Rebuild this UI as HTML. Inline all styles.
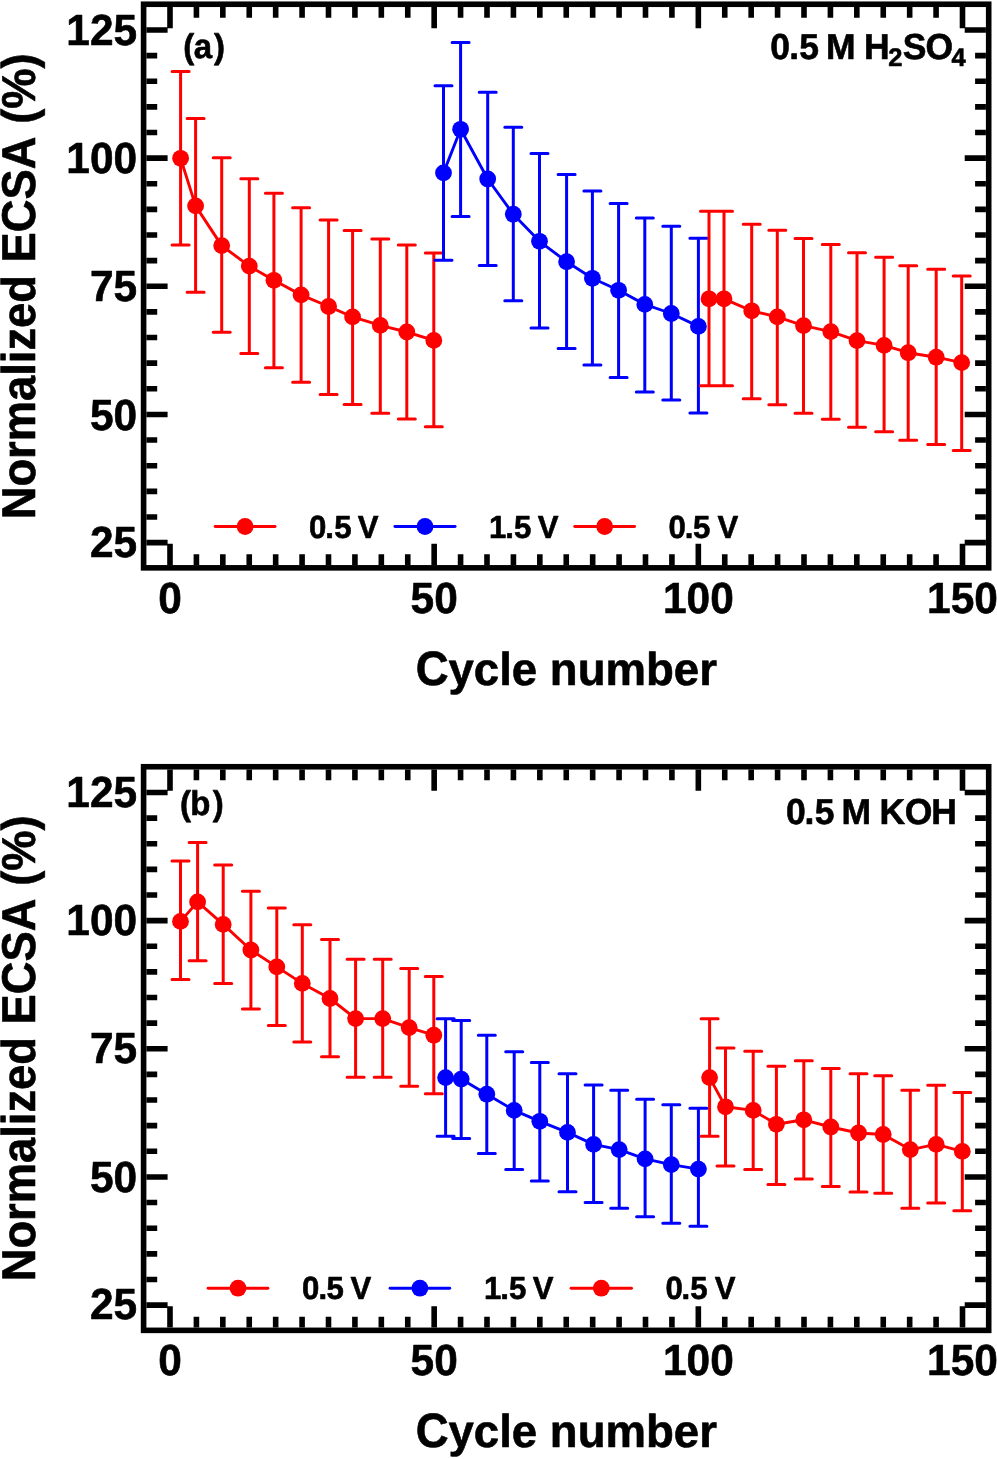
<!DOCTYPE html>
<html><head><meta charset="utf-8"><title>ECSA</title>
<style>
html,body{margin:0;padding:0;background:#fff;}
body{width:997px;height:1459px;overflow:hidden;}
svg{display:block;will-change:transform;}
text{font-family:"Liberation Sans",sans-serif;font-weight:bold;fill:#000;font-kerning:none;stroke:#000;stroke-width:0.6px;stroke-linejoin:round;text-rendering:geometricPrecision;}
</style></head><body>
<svg width="997" height="1459" viewBox="0 0 997 1459">
<rect width="997" height="1459" fill="#fff"/>
<path d="M146.4 542.6H167.6M985.9 542.6H964.7M146.4 516.97H157.2M985.9 516.97H975.1M146.4 491.33H157.2M985.9 491.33H975.1M146.4 465.7H157.2M985.9 465.7H975.1M146.4 440.07H157.2M985.9 440.07H975.1M146.4 414.44H167.6M985.9 414.44H964.7M146.4 388.81H157.2M985.9 388.81H975.1M146.4 363.17H157.2M985.9 363.17H975.1M146.4 337.54H157.2M985.9 337.54H975.1M146.4 311.91H157.2M985.9 311.91H975.1M146.4 286.27H167.6M985.9 286.27H964.7M146.4 260.64H157.2M985.9 260.64H975.1M146.4 235.01H157.2M985.9 235.01H975.1M146.4 209.38H157.2M985.9 209.38H975.1M146.4 183.74H157.2M985.9 183.74H975.1M146.4 158.11H167.6M985.9 158.11H964.7M146.4 132.48H157.2M985.9 132.48H975.1M146.4 106.85H157.2M985.9 106.85H975.1M146.4 81.22H157.2M985.9 81.22H975.1M146.4 55.58H157.2M985.9 55.58H975.1M146.4 29.95H167.6M985.9 29.95H964.7M170 565.05V543.85M170 7.05V28.25M196.42 565.05V554.25M196.42 7.05V17.85M222.83 565.05V554.25M222.83 7.05V17.85M249.25 565.05V554.25M249.25 7.05V17.85M275.67 565.05V554.25M275.67 7.05V17.85M302.08 565.05V554.25M302.08 7.05V17.85M328.5 565.05V554.25M328.5 7.05V17.85M354.92 565.05V554.25M354.92 7.05V17.85M381.33 565.05V554.25M381.33 7.05V17.85M407.75 565.05V554.25M407.75 7.05V17.85M434.17 565.05V543.85M434.17 7.05V28.25M460.58 565.05V554.25M460.58 7.05V17.85M487 565.05V554.25M487 7.05V17.85M513.42 565.05V554.25M513.42 7.05V17.85M539.83 565.05V554.25M539.83 7.05V17.85M566.25 565.05V554.25M566.25 7.05V17.85M592.67 565.05V554.25M592.67 7.05V17.85M619.08 565.05V554.25M619.08 7.05V17.85M645.5 565.05V554.25M645.5 7.05V17.85M671.92 565.05V554.25M671.92 7.05V17.85M698.33 565.05V543.85M698.33 7.05V28.25M724.75 565.05V554.25M724.75 7.05V17.85M751.17 565.05V554.25M751.17 7.05V17.85M777.58 565.05V554.25M777.58 7.05V17.85M804 565.05V554.25M804 7.05V17.85M830.42 565.05V554.25M830.42 7.05V17.85M856.83 565.05V554.25M856.83 7.05V17.85M883.25 565.05V554.25M883.25 7.05V17.85M909.67 565.05V554.25M909.67 7.05V17.85M936.08 565.05V554.25M936.08 7.05V17.85M962.5 565.05V543.85M962.5 7.05V28.25" stroke="#000" stroke-width="5.6" fill="none"/>
<rect x="143.6" y="4.25" width="845.1" height="563.6" stroke="#000" stroke-width="5.6" fill="none"/>
<text transform="translate(66.32 45) scale(1.01 1.035)" font-size="42">125</text>
<text transform="translate(66.32 173) scale(1.01 1.035)" font-size="42">100</text>
<text transform="translate(89.92 301) scale(1.01 1.035)" font-size="42">75</text>
<text transform="translate(89.92 430) scale(1.01 1.035)" font-size="42">50</text>
<text transform="translate(89.92 557) scale(1.01 1.035)" font-size="42">25</text>
<text transform="translate(158.2 613) scale(1.01 1.035)" font-size="42">0</text>
<text transform="translate(410.57 613) scale(1.01 1.035)" font-size="42">50</text>
<text transform="translate(662.95 613) scale(1.01 1.035)" font-size="42">100</text>
<text transform="translate(927.11 613) scale(1.01 1.035)" font-size="42">150</text>
<path d="M180.6 71.6V245M195.6 118.6V292.2M221.7 157.8V332.3M249.3 178.7V353.4M273.9 193.3V367.7M301.1 207.8V382.3M328.6 220.1V394.4M352.6 230.6V404.5M380.3 239V413.2M406.8 245V419M433.8 253.1V426.8" stroke="#ff0000" stroke-width="3.0" fill="none"/>
<path d="M172.1 71.6H189.1M172.1 245H189.1M187.1 118.6H204.1M187.1 292.2H204.1M213.2 157.8H230.2M213.2 332.3H230.2M240.8 178.7H257.8M240.8 353.4H257.8M265.4 193.3H282.4M265.4 367.7H282.4M292.6 207.8H309.6M292.6 382.3H309.6M320.1 220.1H337.1M320.1 394.4H337.1M344.1 230.6H361.1M344.1 404.5H361.1M371.8 239H388.8M371.8 413.2H388.8M398.3 245H415.3M398.3 419H415.3M425.3 253.1H442.3M425.3 426.8H442.3" stroke="#ff0000" stroke-width="3.0" stroke-linecap="round" fill="none"/>
<polyline points="180.6,158.3 195.6,205.9 221.7,245.6 249.3,266.1 273.9,280.3 301.1,294.9 328.6,306.5 352.6,316.9 380.3,325.4 406.8,332 433.8,340.4" stroke="#ff0000" stroke-width="2.9" fill="none" stroke-linejoin="round"/>
<circle cx="180.6" cy="158.3" r="8.4" fill="#ff0000"/>
<circle cx="195.6" cy="205.9" r="8.4" fill="#ff0000"/>
<circle cx="221.7" cy="245.6" r="8.4" fill="#ff0000"/>
<circle cx="249.3" cy="266.1" r="8.4" fill="#ff0000"/>
<circle cx="273.9" cy="280.3" r="8.4" fill="#ff0000"/>
<circle cx="301.1" cy="294.9" r="8.4" fill="#ff0000"/>
<circle cx="328.6" cy="306.5" r="8.4" fill="#ff0000"/>
<circle cx="352.6" cy="316.9" r="8.4" fill="#ff0000"/>
<circle cx="380.3" cy="325.4" r="8.4" fill="#ff0000"/>
<circle cx="406.8" cy="332" r="8.4" fill="#ff0000"/>
<circle cx="433.8" cy="340.4" r="8.4" fill="#ff0000"/>
<path d="M443.5 85.7V260.2M460.6 42.6V216.6M487.7 92.3V265.6M513.3 127.2V300.8M539.5 153.4V327.9M566.6 174.4V348.4M592.4 191V364.9M618.6 203.6V377.6M644.8 218.1V392M671.3 226.2V400.1M698.4 238.2V413.1" stroke="#0000ff" stroke-width="3.0" fill="none"/>
<path d="M435 85.7H452M435 260.2H452M452.1 42.6H469.1M452.1 216.6H469.1M479.2 92.3H496.2M479.2 265.6H496.2M504.8 127.2H521.8M504.8 300.8H521.8M531 153.4H548M531 327.9H548M558.1 174.4H575.1M558.1 348.4H575.1M583.9 191H600.9M583.9 364.9H600.9M610.1 203.6H627.1M610.1 377.6H627.1M636.3 218.1H653.3M636.3 392H653.3M662.8 226.2H679.8M662.8 400.1H679.8M689.9 238.2H706.9M689.9 413.1H706.9" stroke="#0000ff" stroke-width="3.0" stroke-linecap="round" fill="none"/>
<polyline points="443.5,172.9 460.6,129.3 487.7,179 513.3,214.2 539.5,241.3 566.6,261.7 592.4,278.3 618.6,290.3 644.8,304.4 671.3,313.5 698.4,326.4" stroke="#0000ff" stroke-width="2.9" fill="none" stroke-linejoin="round"/>
<circle cx="443.5" cy="172.9" r="8.4" fill="#0000ff"/>
<circle cx="460.6" cy="129.3" r="8.4" fill="#0000ff"/>
<circle cx="487.7" cy="179" r="8.4" fill="#0000ff"/>
<circle cx="513.3" cy="214.2" r="8.4" fill="#0000ff"/>
<circle cx="539.5" cy="241.3" r="8.4" fill="#0000ff"/>
<circle cx="566.6" cy="261.7" r="8.4" fill="#0000ff"/>
<circle cx="592.4" cy="278.3" r="8.4" fill="#0000ff"/>
<circle cx="618.6" cy="290.3" r="8.4" fill="#0000ff"/>
<circle cx="644.8" cy="304.4" r="8.4" fill="#0000ff"/>
<circle cx="671.3" cy="313.5" r="8.4" fill="#0000ff"/>
<circle cx="698.4" cy="326.4" r="8.4" fill="#0000ff"/>
<path d="M709 211.2V385.8M724 211.2V385.8M751.7 224.2V398.7M777.3 230.2V404.7M803.5 238.6V413.2M830.8 244.6V419.2M857 252.8V427.3M884.1 257.3V431.8M908.2 265.7V440.2M936.2 269.3V444.4M961.7 275.9V450.5" stroke="#ff0000" stroke-width="3.0" fill="none"/>
<path d="M700.5 211.2H717.5M700.5 385.8H717.5M715.5 211.2H732.5M715.5 385.8H732.5M743.2 224.2H760.2M743.2 398.7H760.2M768.8 230.2H785.8M768.8 404.7H785.8M795 238.6H812M795 413.2H812M822.3 244.6H839.3M822.3 419.2H839.3M848.5 252.8H865.5M848.5 427.3H865.5M875.6 257.3H892.6M875.6 431.8H892.6M899.7 265.7H916.7M899.7 440.2H916.7M927.7 269.3H944.7M927.7 444.4H944.7M953.2 275.9H970.2M953.2 450.5H970.2" stroke="#ff0000" stroke-width="3.0" stroke-linecap="round" fill="none"/>
<polyline points="709,298.8 724,298.8 751.7,310.8 777.3,316.9 803.5,325.6 830.8,331.6 857,340.6 884.1,345.4 908.2,352.7 936.2,357.2 961.7,362.6" stroke="#ff0000" stroke-width="2.9" fill="none" stroke-linejoin="round"/>
<circle cx="709" cy="298.8" r="8.4" fill="#ff0000"/>
<circle cx="724" cy="298.8" r="8.4" fill="#ff0000"/>
<circle cx="751.7" cy="310.8" r="8.4" fill="#ff0000"/>
<circle cx="777.3" cy="316.9" r="8.4" fill="#ff0000"/>
<circle cx="803.5" cy="325.6" r="8.4" fill="#ff0000"/>
<circle cx="830.8" cy="331.6" r="8.4" fill="#ff0000"/>
<circle cx="857" cy="340.6" r="8.4" fill="#ff0000"/>
<circle cx="884.1" cy="345.4" r="8.4" fill="#ff0000"/>
<circle cx="908.2" cy="352.7" r="8.4" fill="#ff0000"/>
<circle cx="936.2" cy="357.2" r="8.4" fill="#ff0000"/>
<circle cx="961.7" cy="362.6" r="8.4" fill="#ff0000"/>
<line x1="215.1" y1="526.5" x2="275.1" y2="526.5" stroke="#ff0000" stroke-width="2.9" stroke-linecap="round"/>
<circle cx="245.1" cy="526.5" r="8.4" fill="#ff0000"/>
<text transform="translate(0 538) scale(1 1.025)" x="309.12 325.33 334.19 357.74" y="0" font-size="31.2">0.5V</text>
<line x1="394.9" y1="526.5" x2="455.1" y2="526.5" stroke="#0000ff" stroke-width="2.9" stroke-linecap="round"/>
<circle cx="425" cy="526.5" r="8.4" fill="#0000ff"/>
<text transform="translate(0 538) scale(1 1.025)" x="488.98 505.33 514.09 537.74" y="0" font-size="31.2">1.5V</text>
<line x1="574.7" y1="526.5" x2="634.6" y2="526.5" stroke="#ff0000" stroke-width="2.9" stroke-linecap="round"/>
<circle cx="604.65" cy="526.5" r="8.4" fill="#ff0000"/>
<text transform="translate(0 538) scale(1 1.025)" x="668.62 684.73 693.09 717.54" y="0" font-size="31.2">0.5V</text>
<text transform="translate(0 58) scale(1 1.04)" x="183.31 193.78 214.02" y="0" font-size="33">(a)</text>
<text transform="translate(0 59) scale(1 1.015)" x="770.25 789.24 799.36 825.98 863.88 902.83 925.39" y="0" font-size="35.5">0.5MHSO</text>
<text transform="translate(0 66) scale(1 1)" x="888.27 951.56" y="0" font-size="25.5">24</text>
<text transform="translate(415.63 685) scale(0.9903 1.045)" font-size="46">C</text>
<text transform="translate(448.53 685) scale(0.9903 1)" font-size="46">ycle number</text>
<text transform="translate(35.4 519.33) rotate(-90) scale(0.9855 1.03)" font-size="46">Normalized ECSA (%)</text>
<path d="M146.4 1305.1H167.6M985.9 1305.1H964.7M146.4 1279.47H157.2M985.9 1279.47H975.1M146.4 1253.84H157.2M985.9 1253.84H975.1M146.4 1228.2H157.2M985.9 1228.2H975.1M146.4 1202.57H157.2M985.9 1202.57H975.1M146.4 1176.94H167.6M985.9 1176.94H964.7M146.4 1151.31H157.2M985.9 1151.31H975.1M146.4 1125.67H157.2M985.9 1125.67H975.1M146.4 1100.04H157.2M985.9 1100.04H975.1M146.4 1074.41H157.2M985.9 1074.41H975.1M146.4 1048.78H167.6M985.9 1048.78H964.7M146.4 1023.14H157.2M985.9 1023.14H975.1M146.4 997.51H157.2M985.9 997.51H975.1M146.4 971.88H157.2M985.9 971.88H975.1M146.4 946.25H157.2M985.9 946.25H975.1M146.4 920.61H167.6M985.9 920.61H964.7M146.4 894.98H157.2M985.9 894.98H975.1M146.4 869.35H157.2M985.9 869.35H975.1M146.4 843.72H157.2M985.9 843.72H975.1M146.4 818.08H157.2M985.9 818.08H975.1M146.4 792.45H167.6M985.9 792.45H964.7M170 1327.55V1306.35M170 769.55V790.75M196.42 1327.55V1316.75M196.42 769.55V780.35M222.83 1327.55V1316.75M222.83 769.55V780.35M249.25 1327.55V1316.75M249.25 769.55V780.35M275.67 1327.55V1316.75M275.67 769.55V780.35M302.08 1327.55V1316.75M302.08 769.55V780.35M328.5 1327.55V1316.75M328.5 769.55V780.35M354.92 1327.55V1316.75M354.92 769.55V780.35M381.33 1327.55V1316.75M381.33 769.55V780.35M407.75 1327.55V1316.75M407.75 769.55V780.35M434.17 1327.55V1306.35M434.17 769.55V790.75M460.58 1327.55V1316.75M460.58 769.55V780.35M487 1327.55V1316.75M487 769.55V780.35M513.42 1327.55V1316.75M513.42 769.55V780.35M539.83 1327.55V1316.75M539.83 769.55V780.35M566.25 1327.55V1316.75M566.25 769.55V780.35M592.67 1327.55V1316.75M592.67 769.55V780.35M619.08 1327.55V1316.75M619.08 769.55V780.35M645.5 1327.55V1316.75M645.5 769.55V780.35M671.92 1327.55V1316.75M671.92 769.55V780.35M698.33 1327.55V1306.35M698.33 769.55V790.75M724.75 1327.55V1316.75M724.75 769.55V780.35M751.17 1327.55V1316.75M751.17 769.55V780.35M777.58 1327.55V1316.75M777.58 769.55V780.35M804 1327.55V1316.75M804 769.55V780.35M830.42 1327.55V1316.75M830.42 769.55V780.35M856.83 1327.55V1316.75M856.83 769.55V780.35M883.25 1327.55V1316.75M883.25 769.55V780.35M909.67 1327.55V1316.75M909.67 769.55V780.35M936.08 1327.55V1316.75M936.08 769.55V780.35M962.5 1327.55V1306.35M962.5 769.55V790.75" stroke="#000" stroke-width="5.6" fill="none"/>
<rect x="143.6" y="766.75" width="845.1" height="563.6" stroke="#000" stroke-width="5.6" fill="none"/>
<text transform="translate(66.32 807) scale(1.01 1.035)" font-size="42">125</text>
<text transform="translate(66.32 935) scale(1.01 1.035)" font-size="42">100</text>
<text transform="translate(89.92 1063) scale(1.01 1.035)" font-size="42">75</text>
<text transform="translate(89.92 1192) scale(1.01 1.035)" font-size="42">50</text>
<text transform="translate(89.92 1319) scale(1.01 1.035)" font-size="42">25</text>
<text transform="translate(158.2 1375) scale(1.01 1.035)" font-size="42">0</text>
<text transform="translate(410.57 1375) scale(1.01 1.035)" font-size="42">50</text>
<text transform="translate(662.95 1375) scale(1.01 1.035)" font-size="42">100</text>
<text transform="translate(927.11 1375) scale(1.01 1.035)" font-size="42">150</text>
<path d="M180.5 860.9V979.5M197.6 842.6V960.8M223.2 865.1V983.4M250.9 891.3V1009M276.8 907.9V1025.5M302.3 924.7V1042.1M330 939.5V1056.8M355.6 959.3V1077.3M382.7 959.3V1077.3M409.2 968.4V1086.3M433.8 976.5V1093.8" stroke="#ff0000" stroke-width="3.0" fill="none"/>
<path d="M172 860.9H189M172 979.5H189M189.1 842.6H206.1M189.1 960.8H206.1M214.7 865.1H231.7M214.7 983.4H231.7M242.4 891.3H259.4M242.4 1009H259.4M268.3 907.9H285.3M268.3 1025.5H285.3M293.8 924.7H310.8M293.8 1042.1H310.8M321.5 939.5H338.5M321.5 1056.8H338.5M347.1 959.3H364.1M347.1 1077.3H364.1M374.2 959.3H391.2M374.2 1077.3H391.2M400.7 968.4H417.7M400.7 1086.3H417.7M425.3 976.5H442.3M425.3 1093.8H442.3" stroke="#ff0000" stroke-width="3.0" stroke-linecap="round" fill="none"/>
<polyline points="180.5,921.4 197.6,901.9 223.2,924.4 250.9,950 276.8,966.9 302.3,983.4 330,998.5 355.6,1018.6 382.7,1018.6 409.2,1027.6 433.8,1035.2" stroke="#ff0000" stroke-width="2.9" fill="none" stroke-linejoin="round"/>
<circle cx="180.5" cy="921.4" r="8.4" fill="#ff0000"/>
<circle cx="197.6" cy="901.9" r="8.4" fill="#ff0000"/>
<circle cx="223.2" cy="924.4" r="8.4" fill="#ff0000"/>
<circle cx="250.9" cy="950" r="8.4" fill="#ff0000"/>
<circle cx="276.8" cy="966.9" r="8.4" fill="#ff0000"/>
<circle cx="302.3" cy="983.4" r="8.4" fill="#ff0000"/>
<circle cx="330" cy="998.5" r="8.4" fill="#ff0000"/>
<circle cx="355.6" cy="1018.6" r="8.4" fill="#ff0000"/>
<circle cx="382.7" cy="1018.6" r="8.4" fill="#ff0000"/>
<circle cx="409.2" cy="1027.6" r="8.4" fill="#ff0000"/>
<circle cx="433.8" cy="1035.2" r="8.4" fill="#ff0000"/>
<path d="M445.6 1018.7V1136.3M461.2 1020.5V1138.4M486.8 1035.2V1153.5M514.2 1051.8V1169.4M539.8 1062.6V1180.9M567.5 1073.7V1191.7M593.6 1084.9V1202.5M619.2 1090.3V1208.2M645.1 1099.3V1216.7M671.3 1104.7V1223.3M698.4 1108.3V1226.3" stroke="#0000ff" stroke-width="3.0" fill="none"/>
<path d="M437.1 1018.7H454.1M437.1 1136.3H454.1M452.7 1020.5H469.7M452.7 1138.4H469.7M478.3 1035.2H495.3M478.3 1153.5H495.3M505.7 1051.8H522.7M505.7 1169.4H522.7M531.3 1062.6H548.3M531.3 1180.9H548.3M559 1073.7H576M559 1191.7H576M585.1 1084.9H602.1M585.1 1202.5H602.1M610.7 1090.3H627.7M610.7 1208.2H627.7M636.6 1099.3H653.6M636.6 1216.7H653.6M662.8 1104.7H679.8M662.8 1223.3H679.8M689.9 1108.3H706.9M689.9 1226.3H706.9" stroke="#0000ff" stroke-width="3.0" stroke-linecap="round" fill="none"/>
<polyline points="445.6,1077.6 461.2,1079.1 486.8,1094.2 514.2,1110.4 539.8,1121.3 567.5,1132.4 593.6,1144.4 619.2,1149.6 645.1,1158.9 671.3,1164.6 698.4,1169.1" stroke="#0000ff" stroke-width="2.9" fill="none" stroke-linejoin="round"/>
<circle cx="445.6" cy="1077.6" r="8.4" fill="#0000ff"/>
<circle cx="461.2" cy="1079.1" r="8.4" fill="#0000ff"/>
<circle cx="486.8" cy="1094.2" r="8.4" fill="#0000ff"/>
<circle cx="514.2" cy="1110.4" r="8.4" fill="#0000ff"/>
<circle cx="539.8" cy="1121.3" r="8.4" fill="#0000ff"/>
<circle cx="567.5" cy="1132.4" r="8.4" fill="#0000ff"/>
<circle cx="593.6" cy="1144.4" r="8.4" fill="#0000ff"/>
<circle cx="619.2" cy="1149.6" r="8.4" fill="#0000ff"/>
<circle cx="645.1" cy="1158.9" r="8.4" fill="#0000ff"/>
<circle cx="671.3" cy="1164.6" r="8.4" fill="#0000ff"/>
<circle cx="698.4" cy="1169.1" r="8.4" fill="#0000ff"/>
<path d="M709.6 1018.7V1136.3M725.5 1048.1V1166.1M753.2 1051.2V1169.4M776.4 1066.2V1184.5M803.8 1060.8V1179M830.8 1068.6V1186.6M858.5 1073.7V1192M883.2 1075.8V1193.2M910.3 1090.3V1208.2M936.2 1085.2V1203.1M962.3 1092.4V1210.7" stroke="#ff0000" stroke-width="3.0" fill="none"/>
<path d="M701.1 1018.7H718.1M701.1 1136.3H718.1M717 1048.1H734M717 1166.1H734M744.7 1051.2H761.7M744.7 1169.4H761.7M767.9 1066.2H784.9M767.9 1184.5H784.9M795.3 1060.8H812.3M795.3 1179H812.3M822.3 1068.6H839.3M822.3 1186.6H839.3M850 1073.7H867M850 1192H867M874.7 1075.8H891.7M874.7 1193.2H891.7M901.8 1090.3H918.8M901.8 1208.2H918.8M927.7 1085.2H944.7M927.7 1203.1H944.7M953.8 1092.4H970.8M953.8 1210.7H970.8" stroke="#ff0000" stroke-width="3.0" stroke-linecap="round" fill="none"/>
<polyline points="709.6,1077.6 725.5,1106.8 753.2,1110.4 776.4,1124.3 803.8,1119.8 830.8,1127 858.5,1133 883.2,1134.5 910.3,1149.6 936.2,1144.4 962.3,1151.4" stroke="#ff0000" stroke-width="2.9" fill="none" stroke-linejoin="round"/>
<circle cx="709.6" cy="1077.6" r="8.4" fill="#ff0000"/>
<circle cx="725.5" cy="1106.8" r="8.4" fill="#ff0000"/>
<circle cx="753.2" cy="1110.4" r="8.4" fill="#ff0000"/>
<circle cx="776.4" cy="1124.3" r="8.4" fill="#ff0000"/>
<circle cx="803.8" cy="1119.8" r="8.4" fill="#ff0000"/>
<circle cx="830.8" cy="1127" r="8.4" fill="#ff0000"/>
<circle cx="858.5" cy="1133" r="8.4" fill="#ff0000"/>
<circle cx="883.2" cy="1134.5" r="8.4" fill="#ff0000"/>
<circle cx="910.3" cy="1149.6" r="8.4" fill="#ff0000"/>
<circle cx="936.2" cy="1144.4" r="8.4" fill="#ff0000"/>
<circle cx="962.3" cy="1151.4" r="8.4" fill="#ff0000"/>
<line x1="208.1" y1="1288.2" x2="267.9" y2="1288.2" stroke="#ff0000" stroke-width="2.9" stroke-linecap="round"/>
<circle cx="238" cy="1288.2" r="8.4" fill="#ff0000"/>
<text transform="translate(0 1299) scale(1 1.025)" x="302.12 318.53 326.49 350.54" y="0" font-size="31.2">0.5V</text>
<line x1="390.1" y1="1288.2" x2="449.7" y2="1288.2" stroke="#0000ff" stroke-width="2.9" stroke-linecap="round"/>
<circle cx="419.9" cy="1288.2" r="8.4" fill="#0000ff"/>
<text transform="translate(0 1299) scale(1 1.025)" x="483.98 500.33 509.09 532.74" y="0" font-size="31.2">1.5V</text>
<line x1="571.1" y1="1288.2" x2="631.5" y2="1288.2" stroke="#ff0000" stroke-width="2.9" stroke-linecap="round"/>
<circle cx="601.3" cy="1288.2" r="8.4" fill="#ff0000"/>
<text transform="translate(0 1299) scale(1 1.025)" x="665.52 681.53 690.29 714.74" y="0" font-size="31.2">0.5V</text>
<text transform="translate(0 815) scale(1 1.04)" x="180.01 190.27 212.72" y="0" font-size="33">(b)</text>
<text transform="translate(0 824) scale(1 1.015)" x="785.95 804.54 814.86 841.58 879.48 904.79 931.28" y="0" font-size="35.5">0.5MKOH</text>
<text transform="translate(415.63 1447) scale(0.9903 1.045)" font-size="46">C</text>
<text transform="translate(448.53 1447) scale(0.9903 1)" font-size="46">ycle number</text>
<text transform="translate(35.4 1281.33) rotate(-90) scale(0.9855 1.03)" font-size="46">Normalized ECSA (%)</text>
</svg>
</body></html>
